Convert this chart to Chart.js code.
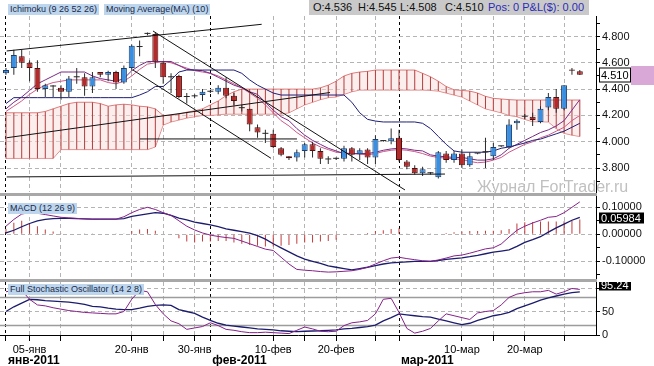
<!DOCTYPE html>
<html lang="ru">
<head>
<meta charset="UTF-8">
<title>Ichimoku / MACD / Stochastic</title>
<script src="https://cdn.jsdelivr.net/npm/chart.js"></script>
<style>
  body { margin: 0; background: #fff; font-family: "Liberation Sans", Arial, sans-serif; }
  #wrap { position: relative; width: 654px; height: 366px; overflow: hidden; background: #fff; }
  #wrap canvas { position: absolute; left: 0; }
  .lbl { position: absolute; background: #bdd6ee; color: #1b2a48; font-size: 9px; line-height: 11px; padding: 0 2px; white-space: nowrap; z-index: 2; }
  .sep { position: absolute; left: 0; width: 597px; height: 3px; background: #a8a8a8; z-index: 3; }
  #ohlc { position: absolute; left: 309px; top: 0; width: 280px; height: 15px; background: #c9c9c9; font-size: 11px; line-height: 15px; z-index: 2; color: #111; }
  #ohlc span { position: absolute; top: 0; white-space: nowrap; }
  #wm { position: absolute; left: 477px; top: 179px; font-size: 16px; line-height: 16px; color: #c0c0c0; z-index: 1; white-space: nowrap; }
</style>
</head>
<body>
<div id="wrap">
  <canvas id="mainChart" width="654" height="193" style="top:0"></canvas>
  <canvas id="macdChart" width="654" height="83" style="top:196px"></canvas>
  <canvas id="stochChart" width="654" height="84" style="top:282px"></canvas>
  <div id="wm">Журнал ForTrader.ru</div>
  <div class="sep" style="top:193px"></div>
  <div class="sep" style="top:279px"></div>
  <div class="lbl" style="left:8px;top:4px">Ichimoku (9 26 52 26)</div>
  <div class="lbl" style="left:104px;top:4px">Moving Average(MA) (10)</div>
  <div id="ohlc"></div>
  <div class="lbl" style="left:8px;top:203px">MACD (12 26 9)</div>
  <div class="lbl" style="left:8px;top:284px">Full Stochastic Oscillator (14 2 8)</div>
</div>

<script>
// ---- daily candles ----
const opens  = [4.52,4.56,4.65,4.60,4.56,4.40,4.42,4.41,4.38,4.49, 4.49,4.42,4.53,4.51,4.53,4.45,4.56,4.72,4.82,4.82,
                4.60,4.49,4.50,4.34,4.345,4.355,4.38,4.38,4.41,4.35, 4.26,4.25,4.11,4.065,4.06,3.95,3.89,3.88,3.93,3.98,
                3.93,3.865,3.87,3.87,3.95,3.905,3.94,3.88,4.005,4.003, 4.03,3.85,3.80,3.76,3.76,3.73,3.91,3.86,3.91,3.82,
                3.91,3.92,3.89,3.965,3.96,4.14,4.19,4.19,4.15,4.26, 4.34,4.25,4.55,4.536];
const highs  = [4.56,4.70,4.70,4.62,4.62,4.44,4.43,4.43,4.50,4.56, 4.52,4.53,4.53,4.54,4.54,4.58,4.74,4.77,4.83,4.83,
                4.61,4.52,4.51,4.37,4.36,4.40,4.39,4.43,4.49,4.37, 4.28,4.25,4.13,4.09,4.09,3.96,3.89,3.94,3.99,4.00,
                3.95,3.89,3.88,3.97,3.96,3.95,3.95,4.05,4.01,4.10, 4.09,3.86,3.82,3.81,3.77,3.93,3.93,3.93,3.94,3.92,
                3.915,4.03,3.99,3.97,4.17,4.17,4.21,4.22,4.27,4.37, 4.40,4.43,4.56,4.545];
const lows   = [4.51,4.51,4.56,4.46,4.38,4.34,4.34,4.32,4.34,4.44, 4.35,4.37,4.49,4.46,4.40,4.44,4.54,4.65,4.81,4.56,
                4.44,4.37,4.33,4.29,4.33,4.31,4.37,4.36,4.33,4.28, 4.23,4.08,4.03,3.99,3.95,3.89,3.86,3.85,3.88,3.88,
                3.83,3.83,3.86,3.85,3.85,3.86,3.83,3.83,4.00,3.98, 3.85,3.79,3.75,3.74,3.75,3.72,3.84,3.84,3.80,3.81,
                3.905,3.80,3.86,3.96,3.95,4.09,4.17,4.12,4.14,4.24, 4.22,4.24,4.51,4.508];
const closes = [4.545,4.66,4.60,4.56,4.40,4.43,4.42,4.38,4.48,4.495, 4.42,4.49,4.51,4.53,4.45,4.56,4.73,4.725,4.82,4.61,
                4.49,4.495,4.34,4.34,4.345,4.38,4.38,4.41,4.35,4.31, 4.255,4.13,4.07,4.06,3.96,3.90,3.875,3.92,3.98,3.93,
                3.87,3.87,3.875,3.95,3.90,3.935,3.88,4.02,4.01,4.026, 3.86,3.81,3.76,3.79,3.765,3.92,3.86,3.91,3.82,3.89,
                3.91,3.92,3.96,3.965,4.13,4.16,4.19,4.165,4.25,4.34, 4.25,4.43,4.54,4.510];

// ---- Ichimoku + MA(10) ----
const kijun  = [4.29,4.335,4.335,4.335,4.335,4.335,4.335,4.335,4.335,4.335, 4.335,4.335,4.335,4.335,4.335,4.335,4.335,4.355,4.38,4.42,
                4.42,4.47,4.53,4.545,4.545,4.545,4.545,4.545,4.545,4.545, 4.52,4.47,4.43,4.40,4.37,4.355,4.355,4.355,4.355,4.355,
                4.355,4.355,4.355,4.355,4.30,4.22,4.17,4.157,4.15,4.15, 4.15,4.15,4.15,4.14,4.10,4.04,3.98,3.93,3.92,3.92,
                3.92,3.92,3.93,3.95,3.96,3.975,3.99,4.01,4.02,4.04, 4.06,4.08,4.11,4.14];
const tenkan = [4.25,4.30,4.34,4.39,4.44,4.47,4.50,4.53,4.53,4.53, 4.53,4.50,4.48,4.47,4.46,4.48,4.54,4.58,4.61,4.61,
                4.61,4.61,4.58,4.55,4.545,4.54,4.52,4.49,4.46,4.43, 4.41,4.38,4.36,4.30,4.24,4.19,4.16,4.10,4.05,4.01,
                3.98,3.95,3.93,3.91,3.91,3.91,3.91,3.92,3.935,3.945, 3.95,3.945,3.935,3.93,3.90,3.89,3.885,3.88,3.88,3.87,
                3.86,3.86,3.87,3.90,3.95,3.98,4.01,4.04,4.07,4.09, 4.12,4.16,4.24,4.32];
const ma10   = [4.23,4.27,4.31,4.36,4.40,4.43,4.45,4.46,4.47,4.47, 4.47,4.47,4.47,4.45,4.44,4.46,4.50,4.55,4.59,4.60,
                4.61,4.60,4.58,4.56,4.54,4.53,4.52,4.50,4.47,4.44, 4.41,4.37,4.33,4.28,4.22,4.16,4.12,4.07,4.03,3.99,
                3.96,3.94,3.92,3.915,3.91,3.905,3.90,3.91,3.925,3.935, 3.94,3.935,3.925,3.91,3.89,3.88,3.875,3.87,3.865,3.85,
                3.84,3.845,3.86,3.88,3.92,3.95,3.98,4.00,4.03,4.05, 4.08,4.11,4.16,4.20];
const spanA  = [4.22,4.22,4.22,4.22,4.22,4.23,4.25,4.27,4.29,4.30, 4.30,4.30,4.29,4.27,4.28,4.285,4.28,4.27,4.265,4.25,
                4.20,4.20,4.21,4.225,4.235,4.25,4.28,4.31,4.35,4.38, 4.40,4.40,4.40,4.40,4.40,4.40,4.40,4.40,4.40,4.40,
                4.41,4.43,4.46,4.50,4.52,4.53,4.535,4.545,4.545,4.545, 4.545,4.545,4.545,4.52,4.494,4.46,4.42,4.395,4.39,4.385,
                4.37,4.345,4.33,4.325,4.32,4.317,4.317,4.317,4.317,4.317, 4.317,4.317,4.317,4.317];
const spanB  = [3.873,3.873,3.873,3.873,3.873,3.873,3.873,3.94,3.94,3.94, 3.94,3.94,3.94,3.94,3.94,3.94,3.94,3.94,3.94,3.96,
                4.127,4.15,4.165,4.18,4.19,4.20,4.20,4.205,4.21,4.21, 4.21,4.21,4.21,4.21,4.21,4.21,4.22,4.25,4.28,4.30,
                4.32,4.335,4.34,4.36,4.38,4.393,4.393,4.393,4.393,4.393, 4.393,4.393,4.393,4.393,4.39,4.385,4.37,4.355,4.34,4.31,
                4.28,4.25,4.235,4.22,4.20,4.19,4.17,4.152,4.152,4.15, 4.10,4.064,4.05,4.04];

// ---- MACD (12 26 9) ----
const macdLine   = [0.03,0.055,0.075,0.08,0.078,0.073,0.068,0.063,0.061,0.059, 0.057,0.056,0.056,0.056,0.056,0.065,0.08,0.092,0.10,0.092,
                    0.08,0.07,0.05,0.03,0.016,0.005,-0.003,-0.008,-0.012,-0.015, -0.025,-0.035,-0.045,-0.055,-0.06,-0.085,-0.11,-0.13,-0.133,-0.135,
                    -0.138,-0.14,-0.139,-0.137,-0.135,-0.13,-0.122,-0.11,-0.098,-0.088, -0.085,-0.09,-0.094,-0.098,-0.10,-0.095,-0.088,-0.08,-0.077,-0.07,
                    -0.062,-0.054,-0.05,-0.036,-0.01,0.015,0.03,0.042,0.052,0.063, 0.066,0.08,0.10,0.12];
const macdSignal = [0.005,0.015,0.028,0.04,0.05,0.055,0.058,0.059,0.059,0.058, 0.057,0.056,0.056,0.056,0.056,0.058,0.066,0.071,0.076,0.08,
                    0.078,0.07,0.06,0.053,0.045,0.04,0.035,0.028,0.02,0.015, 0.01,0.004,-0.005,-0.018,-0.035,-0.05,-0.065,-0.08,-0.092,-0.10,
                    -0.108,-0.117,-0.122,-0.127,-0.132,-0.127,-0.122,-0.116,-0.11,-0.106, -0.104,-0.102,-0.10,-0.10,-0.10,-0.097,-0.093,-0.09,-0.087,-0.083,
                    -0.078,-0.072,-0.066,-0.062,-0.058,-0.045,-0.03,-0.02,-0.009,0.008, 0.024,0.038,0.052,0.063];
const macdHist   = [0.02,0.043,0.05,0.04,0.03,0.018,0.01,0.003,0.002,0.002, 0.001,0.001,0,0,0.001,0.003,0.012,0.018,0.02,0.013,
                    0.002,-0.001,-0.015,-0.027,-0.03,-0.027,-0.027,-0.025,-0.025,-0.03, -0.035,-0.04,-0.042,-0.045,-0.045,-0.042,-0.04,-0.035,-0.03,-0.03,
                    -0.027,-0.025,-0.02,-0.002,-0.001,0,0.005,0.012,0.015,0.02, 0.022,0.003,0.001,0.001,0.001,0.002,0.005,0.008,0.01,0.012,
                    0.012,0.013,0.013,0.015,0.02,0.04,0.045,0.046,0.047,0.047, 0.047,0.048,0.05,0.055];
const lastMacd = 0.05984;

// ---- Full Stochastic (14 2 8) ----
const stochK = [92,95,95,76,64,62,58,55,52,50, 48,47,46,45,45,50,76,95,92,65,
                45,30,24,12,15,18,26,20,12,10, 7,5,5,6,5,4,3,10,17,13,
                8,7,8,20,26,28,31,45,76,78, 48,14,4,8,14,30,45,41,37,33,
                47,50,52,64,80,87,90,92,92,95, 87,92,99,97];
const stochD = [50,60,68,76,75,73,72,71,70,68, 65,61,60,57,55,54,54,57,61,63,
                64,63,54,50,46,38,31,25,21,19, 17,15,13,12,11,9,8,7,8,8.5,
                9,10,11,13,14,16,18,21,30,37, 45,43,41,39,38,34,30,26,22,25,
                31,36,41,44,48,56,62,68,74,79, 83,87,90,92];
const stochLevels = [20, 80];
const lastStoch = 95.24;

// ---- hand-drawn trend lines: [[bar, price], [bar, price]] ----
const trendLines = [
  [[0.09, 4.690], [32.53, 4.893]],
  [[18.70, 4.842], [50.76, 3.633]],
  [[16.16, 4.545], [33.71, 3.874]],
  [[0.09, 4.030], [41.22, 4.374]],
  [[17.05, 4.021], [37.02, 4.021]],
  [[0.09, 3.732], [55.85, 3.754]]
];

// ---- axes ----
const gridIdx     = [3, 7, 16, 20, 24, 34, 38, 42, 47, 58, 62, 66, 71];
const dayIdx      = [3, 16, 24, 34, 42, 58, 66];
const dayLabels   = ['05-янв', '20-янв', '30-янв', '10-фев', '20-фев', '10-мар', '20-мар'];
const monthIdx    = [0, 26, 50];
const monthLabels = ['янв-2011', 'фев-2011', 'мар-2011'];
const priceTicks  = [3.7, 3.8, 3.9, 4.0, 4.1, 4.2, 4.3, 4.4, 4.5, 4.6, 4.7, 4.8, 4.9];
const macdTicks   = [-0.15, -0.1, -0.05, 0, 0.05, 0.1];
const stochTicks  = [0, 50, 100];

const X_MIN = -0.76, X_MAX = 75.06;
const FONT = '"Liberation Sans", Arial, sans-serif';
Chart.defaults.font.family = FONT;
Chart.defaults.font.size = 11;
Chart.defaults.color = '#111';

const last = closes.length - 1;
const idx = closes.map((_, i) => i);
const GRID = '#b4b4b4';

// header with the last bar
const ohlc = document.getElementById('ohlc');
[['O:' + opens[last].toFixed(3), 4], ['H:' + highs[last].toFixed(3), 49], ['L:' + lows[last].toFixed(3), 91],
 ['C:' + closes[last].toFixed(3), 136], ['Pos: 0 P&L($): 0.00', 179]].forEach(([t, l], k) => {
  const s = document.createElement('span');
  s.textContent = t; s.style.left = l + 'px';
  if (k === 4) s.style.color = '#2b2bb8';
  ohlc.appendChild(s);
});

function noPad(s) { s.paddingTop = s.paddingBottom = s.paddingLeft = s.paddingRight = 0; }

function xAxis(withLabels) {
  const allTicks = [...monthIdx, ...gridIdx].sort((a, b) => a - b);
  return {
    type: 'linear', min: X_MIN, max: X_MAX, offset: false,
    afterBuildTicks: s => { s.ticks = allTicks.map(v => ({ value: v })); },
    afterFit: s => { s.height = withLabels ? 31 : 0; noPad(s); },
    grid: {
      offset: false,
      color: c => (c.tick && monthIdx.includes(c.tick.value)) ? '#000' : GRID,
      drawTicks: withLabels, tickLength: 6, tickColor: '#000'
    },
    border: { display: withLabels, color: '#000', dash: c => c.tick ? (monthIdx.includes(c.tick.value) ? [3, 3] : [4, 3]) : [] },
    ticks: {
      display: withLabels, autoSkip: false, maxRotation: 0, padding: 2, color: '#000',
      callback: v => { const k = dayIdx.indexOf(v); return k < 0 ? '' : dayLabels[k]; }
    }
  };
}

function yAxis(min, max, ticks, isMajor, label) {
  return {
    position: 'right', min, max,
    afterBuildTicks: s => { s.ticks = ticks.map(v => ({ value: v })); },
    afterFit: s => { s.width = 58; noPad(s); },
    grid: { color: c => (c.tick && isMajor(c.tick.value)) ? GRID : 'rgba(0,0,0,0)', drawTicks: true, tickLength: 4, tickColor: '#000' },
    border: { display: true, color: '#000', dash: c => c.tick ? [4, 3] : [] },
    ticks: { autoSkip: false, padding: 2, color: '#111', callback: label }
  };
}

const line = (arr, color, width, order) => ({
  type: 'line', data: arr.map((v, i) => ({ x: i, y: v })), borderColor: color, borderWidth: width,
  pointRadius: 0, tension: 0, fill: false, order
});

function tag(value, text, o) {
  return {
    id: 'tag',
    afterDraw(chart) {
      const { ctx, chartArea, scales } = chart;
      const y = Math.round(scales.y.getPixelForValue(value)) + (o.shift || 0);
      const x = chartArea.right + 3;
      ctx.save();
      if (o.side) { ctx.fillStyle = o.side; ctx.fillRect(x + o.w, y - 9, chart.width - x - o.w, 19); }
      ctx.fillStyle = o.bg;
      ctx.fillRect(x, y - o.h / 2, o.w, o.h);
      if (o.stroke) { ctx.strokeStyle = o.stroke; ctx.lineWidth = 1; ctx.strokeRect(x + 0.5, y - o.h / 2 + 0.5, o.w - 1, o.h - 1); }
      ctx.fillStyle = o.fg;
      ctx.font = '11px ' + FONT;
      ctx.textBaseline = 'middle';
      ctx.fillText(text, x + 2, y + 0.5);
      ctx.restore();
    }
  };
}

const common = {
  responsive: false, animation: false, events: [],
  plugins: { legend: { display: false }, tooltip: { enabled: false } }
};

// ---- price pane ----
const isDoji = i => Math.abs(closes[i] - opens[i]) < 0.006;
const bodyFill = i => isDoji(i) ? '#262626' : (closes[i] > opens[i] ? '#3b8fe0' : '#b42a2a');
const bodyEdge = i => isDoji(i) ? '#262626' : (closes[i] > opens[i] ? '#1d3f6e' : '#4f1010');

new Chart(document.getElementById('mainChart'), {
  type: 'bar',
  data: {
    datasets: [
      Object.assign(line(spanA, '#de7c7c', 1, 10), { fill: '+1', backgroundColor: 'rgba(252,222,222,0.5)' }),
      line(spanB, '#de7c7c', 1, 10),
      { type: 'bar', data: idx.map(i => ({ x: i, y: [spanA[i], spanB[i]] })), backgroundColor: '#b23c3c',
        barThickness: 1, grouped: false, inflateAmount: 0, order: 9 },
      line(kijun, '#1e1e78', 1, 3),
      line(tenkan, '#7a2a86', 1, 3),
      line(ma10, '#cc5a88', 1, 3),
      { type: 'bar', data: idx.map(i => ({ x: i, y: [lows[i], highs[i]] })), backgroundColor: '#2b2b2b',
        barThickness: 1, grouped: false, inflateAmount: 0, order: 2 },
      { type: 'bar', data: idx.map(i => ({ x: i, y: [opens[i], closes[i]] })),
        backgroundColor: c => bodyFill(c.dataIndex), borderColor: c => bodyEdge(c.dataIndex),
        borderWidth: c => isDoji(c.dataIndex) ? 0 : 1, borderSkipped: false,
        barThickness: 6, minBarLength: 1, grouped: false, inflateAmount: 0, order: 1 },
      ...trendLines.map(seg => ({
        type: 'line', data: seg.map(([x, y]) => ({ x, y })), borderColor: '#111', borderWidth: 1,
        pointRadius: 0, fill: false, order: 0
      }))
    ]
  },
  options: Object.assign({}, common, {
    layout: { padding: { top: 16, bottom: 1, left: 0, right: 0 } },
    scales: {
      x: xAxis(false),
      y: yAxis(3.6175, 4.956, priceTicks, v => Math.round(v * 10) % 2 === 0,
               v => Math.round(v * 10) % 2 === 0 ? v.toFixed(3) : '')
    }
  }),
  plugins: [tag(closes[last], closes[last].toFixed(3), { w: 32, h: 15, bg: '#fff', fg: '#000', stroke: '#000', side: '#d9a8d6' })]
});

// ---- MACD pane ----
new Chart(document.getElementById('macdChart'), {
  type: 'bar',
  data: {
    datasets: [
      { type: 'bar', data: macdHist.map((v, i) => ({ x: i, y: v })), backgroundColor: '#c23b3b',
        barThickness: 1, grouped: false, inflateAmount: 0, order: 2 },
      line(macdLine, '#86218a', 1, 1),
      line(macdSignal, '#1c1c6e', 1.3, 1)
    ]
  },
  options: Object.assign({}, common, {
    layout: { padding: 0 },
    scales: {
      x: xAxis(false),
      y: yAxis(-0.16556, 0.14185, macdTicks, v => Math.round(Math.abs(v) * 100) % 10 === 0,
               v => Math.round(Math.abs(v) * 100) % 10 === 0 ? v.toFixed(5) : '')
    }
  }),
  plugins: [tag(lastMacd, lastMacd.toFixed(5), { w: 45, h: 11, bg: '#000', fg: '#fff' })]
});

// ---- Stochastic pane ----
const monthPlugin = {
  id: 'months',
  afterDraw(chart) {
    const { ctx, scales: { x }, chartArea } = chart;
    ctx.save();
    ctx.font = 'bold 12px ' + FONT;
    ctx.fillStyle = '#000';
    ctx.textBaseline = 'middle';
    monthIdx.forEach((m, k) => ctx.fillText(monthLabels[k], x.getPixelForValue(m) + 2, chartArea.bottom + 26));
    ctx.restore();
  }
};

new Chart(document.getElementById('stochChart'), {
  type: 'line',
  data: {
    datasets: [
      ...stochLevels.map(l => ({ data: [{ x: X_MIN, y: l }, { x: X_MAX, y: l }], borderColor: '#9c9c9c',
        borderWidth: 1.5, pointRadius: 0, fill: false, order: 5 })),
      line(stochK, '#86218a', 1, 1),
      line(stochD, '#1c1c6e', 1.3, 1)
    ]
  },
  options: Object.assign({}, common, {
    layout: { padding: 0 },
    scales: {
      x: xAxis(true),
      y: yAxis(0, 112.8, stochTicks, v => v > 0, v => v < 100 ? String(v) : '')
    }
  }),
  plugins: [monthPlugin, tag(lastStoch, lastStoch.toFixed(2), { w: 32, h: 11, bg: '#000', fg: '#fff', shift: -5 })]
});
</script>
</body>
</html>
